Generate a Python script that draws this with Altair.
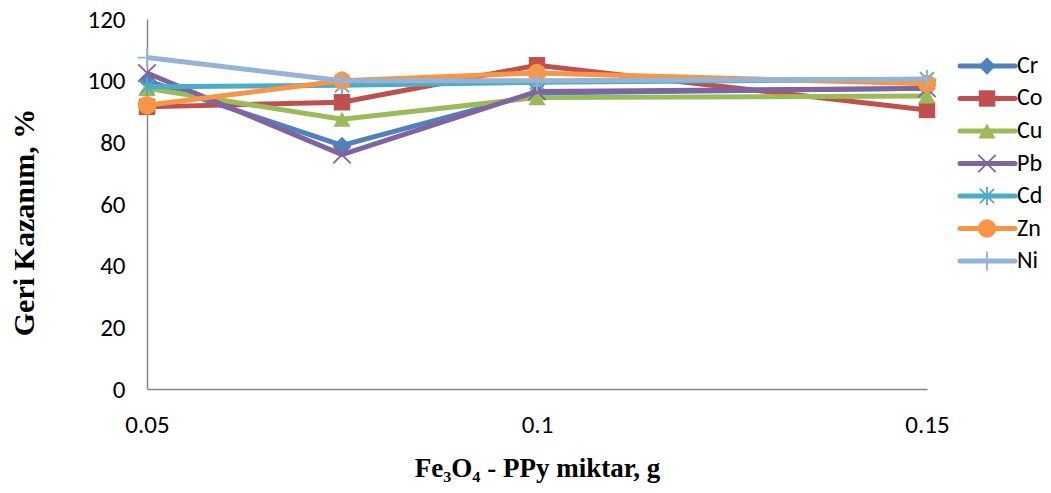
import altair as alt
import pandas as pd

# Recovery (%) of each metal versus sorbent amount (g)
amounts = [0.05, 0.075, 0.1, 0.15]
metals = ["Cr", "Co", "Cu", "Pb", "Cd", "Zn", "Ni"]

cr = [100.0, 79.0, 96.0, 97.5]
co = [91.5, 93.0, 105.0, 90.5]
cu = [97.5, 87.5, 94.5, 95.0]
pb = [102.5, 76.0, 96.5, 97.5]
cd = [98.0, 98.5, 99.5, 100.5]
zn = [92.0, 100.0, 102.5, 99.0]
ni = [107.5, 100.0, 100.0, 100.5]
series = [cr, co, cu, pb, cd, zn, ni]

x_ticks = [0.05, 0.1, 0.15]
y_ticks = [0, 20, 40, 60, 80, 100, 120]

colors = ["#4F81BD", "#C0504D", "#9BBB59", "#8064A2", "#4BACC6", "#F79646", "#95B3D7"]

X_PATH = "M-1,-1L1,1M1,-1L-1,1"
STAR_PATH = "M-1,-1L1,1M1,-1L-1,1M0,-1.3L0,1.3"
PLUS_PATH = "M0,-1L0,1M-1,0L1,0"

# shape, filled, size, stroke width
markers = {
    "Cr": ("diamond", True, 300, 1),
    "Co": ("square", True, 270, 1),
    "Cu": ("triangle-up", True, 300, 1),
    "Pb": (X_PATH, False, 300, 1.8),
    "Cd": (STAR_PATH, False, 200, 1.8),
    "Zn": ("circle", True, 340, 1),
    "Ni": (PLUS_PATH, False, 360, 1.8),
}

rows = []
for m, vals in zip(metals, series):
    for a, v in zip(amounts, vals):
        rows.append({"metal": m, "amount": a, "recovery": v})
df = pd.DataFrame(rows)

LABEL_FONT = "Carlito, Liberation Sans, sans-serif"
TITLE_FONT = "Liberation Serif, DejaVu Serif, serif"

x_enc = alt.X(
    "amount:Q",
    scale=alt.Scale(domain=[0.05, 0.15], nice=False, zero=False),
    axis=alt.Axis(
        values=x_ticks, format=".2~f", title="Fe₃O₄ - PPy miktar, g",
        grid=False, ticks=False, labelFlush=False, labelPadding=23,
        titlePadding=18, titleFontSize=27,
    ),
)
y_enc = alt.Y(
    "recovery:Q",
    scale=alt.Scale(domain=[0, 120], nice=False),
    axis=alt.Axis(
        values=y_ticks, title="Geri Kazanım,  %", grid=False, ticks=False,
        labelPadding=22, titlePadding=47, titleFontSize=30, titleY=203,
    ),
)

layers = []
for m, c in zip(metals, colors):
    base = alt.Chart(df).transform_filter(alt.datum.metal == m)
    shape, filled, size, sw = markers[m]
    layers.append(base.mark_line(color=c, strokeWidth=5).encode(x=x_enc, y=y_enc))
    layers.append(
        base.mark_point(shape=shape, filled=filled, color=c, size=size,
                        strokeWidth=sw, opacity=1).encode(x=x_enc, y=y_enc)
    )

main = alt.layer(*layers).properties(width=780, height=370)

# Legend panel: a short line with the marker in the middle, then the name
leg_df = pd.DataFrame({
    "metal": metals,
    "pos": list(range(len(metals))),
    "x0": [5] * len(metals),
    "x1": [60] * len(metals),
    "xm": [32] * len(metals),
    "xt": [62] * len(metals),
})
lx = alt.Scale(domain=[0, 92])
ly = alt.Scale(domain=[-1.446, 9.938], reverse=True)

leg_layers = []
for m, c in zip(metals, colors):
    b = alt.Chart(leg_df).transform_filter(alt.datum.metal == m)
    shape, filled, size, sw = markers[m]
    leg_layers.append(
        b.mark_rule(color=c, strokeWidth=5, strokeCap="round").encode(
            x=alt.X("x0:Q", scale=lx, axis=None), x2="x1:Q",
            y=alt.Y("pos:Q", scale=ly, axis=None))
    )
    leg_layers.append(
        b.mark_point(shape=shape, filled=filled, color=c, size=size,
                     strokeWidth=sw, opacity=1).encode(
            x=alt.X("xm:Q", scale=lx, axis=None),
            y=alt.Y("pos:Q", scale=ly, axis=None))
    )
    leg_layers.append(
        b.mark_text(align="left", baseline="middle", font=LABEL_FONT,
                    fontSize=24, color="#000000").encode(
            x=alt.X("xt:Q", scale=lx, axis=None),
            y=alt.Y("pos:Q", scale=ly, axis=None),
            text="metal:N")
    )
legend = alt.layer(*leg_layers).properties(width=92, height=370)

chart = (
    alt.hconcat(main, legend, spacing=28, bounds="flush")
    .properties(background="white",
                padding={"left": 9, "top": 7, "right": 0, "bottom": 3})
    .configure_view(stroke=None)
    .configure_axis(
        domainColor="#868686", domainWidth=1.5,
        labelFont=LABEL_FONT, labelFontSize=25, labelColor="#000000",
        titleFont=TITLE_FONT, titleFontWeight="bold", titleColor="#000000",
    )
)

chart.save("out.html", embed_options={"renderer": "svg", "actions": False})
